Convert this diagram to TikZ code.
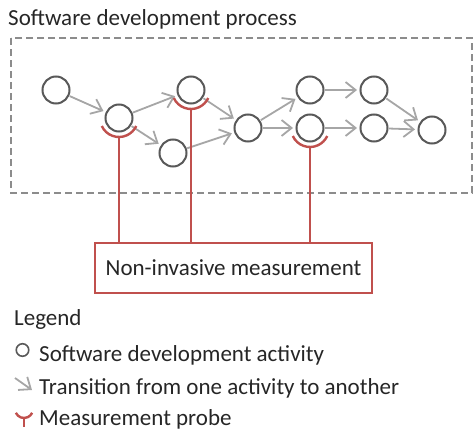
\documentclass[tikz,border=0pt]{standalone}
\usepackage{fontspec}
\setmainfont{Carlito}
\usepackage{tikz}
\usetikzlibrary{positioning,arrows.meta}
\definecolor{txtgray}{HTML}{262626}
\definecolor{actgray}{HTML}{595959}
\definecolor{arrgray}{HTML}{A6A6A6}
\definecolor{boxgray}{HTML}{8C8C8C}
\definecolor{probered}{HTML}{C0504D}

\begin{document}
\begin{tikzpicture}[x=1pt, y=-1pt, font=\fontsize{23}{27}\selectfont, text=txtgray,
  act/.style={circle, draw=actgray, line width=2pt, minimum size=27pt, inner sep=0pt},
  trans/.style={-{Straight Barb[length=10pt, width=16pt, line width=1.8pt]}, arrgray,
                line width=1.8pt, shorten >=2.5pt, shorten <=0.5pt},
  probe/.style={probered, line width=2.4pt},
  lbl/.style={anchor=base west, inner sep=0pt}]
\useasboundingbox (0,0) rectangle (474,431);
\node[lbl] (title) at (8,25) {Software development process};
\draw[boxgray, dashed, dash pattern=on 7pt off 4pt, line width=1.7pt] (11,38) rectangle (472,193);
% activities
\node[act] (a1) at (56,90) {};
\node[act] (a2) at (119,118) {};
\node[act] (a3) at (191,90) {};
\node[act] (a4) at (173,153) {};
\node[act] (a5) at (248,128) {};
\node[act] (a6) at (310,90) {};
\node[act] (a7) at (310,128) {};
\node[act] (a8) at (374,90) {};
\node[act] (a9) at (374,128) {};
\node[act] (a10) at (432,130) {};
% transitions
\draw[trans] (a1) -- (a2);
\draw[trans] (a2) -- (a3);
\draw[trans] (a2) -- (a4);
\draw[trans] (a3) -- (a5);
\draw[trans] (a4) -- (a5);
\draw[trans] (a5) -- (a6);
\draw[trans] (a5) -- (a7);
\draw[trans] (a6) -- (a8);
\draw[trans] (a7) -- (a9);
\draw[trans] (a8) -- (a10);
\draw[trans] (a9) -- (a10);
% measurement
\node[draw=probered, line width=1.7pt, minimum width=277pt, minimum height=50pt] (meas) at (233.5,268)
  {Non-invasive measurement};
\foreach \a in {a2,a3,a7} {
  \coordinate (p\a) at ([yshift=-19pt]\a.center);
  \draw[probe] ([shift={(205:19pt)}]\a.center) arc[start angle=205, end angle=335, radius=19pt];
  \draw[probe] (p\a) -- (p\a |- meas.north);
}
% legend
\node[lbl] (leg) at (14,325) {Legend};
\node[act, minimum size=12.5pt, line width=1.6pt] (legact) at (22.5,350) {};
\node[lbl] (legacttxt) at (39,361) {Software development activity};
\coordinate (legfrom) at (15,378);
\coordinate (legto) at (32,390);
\draw[trans, shorten >=0pt, shorten <=0pt] (legfrom) -- (legto);
\node[lbl] (legtranstxt) at (39,394) {Transition from one activity to another};
\coordinate (legprobe) at (24,409);
\draw[probe] ([shift={(205:9pt)}]legprobe) arc[start angle=205, end angle=335, radius=9pt];
\draw[probe] ([yshift=-9pt]legprobe) -- ([yshift=-18pt]legprobe);
\node[lbl] (legprobetxt) at (39,425) {Measurement probe};
\end{tikzpicture}
\end{document}
